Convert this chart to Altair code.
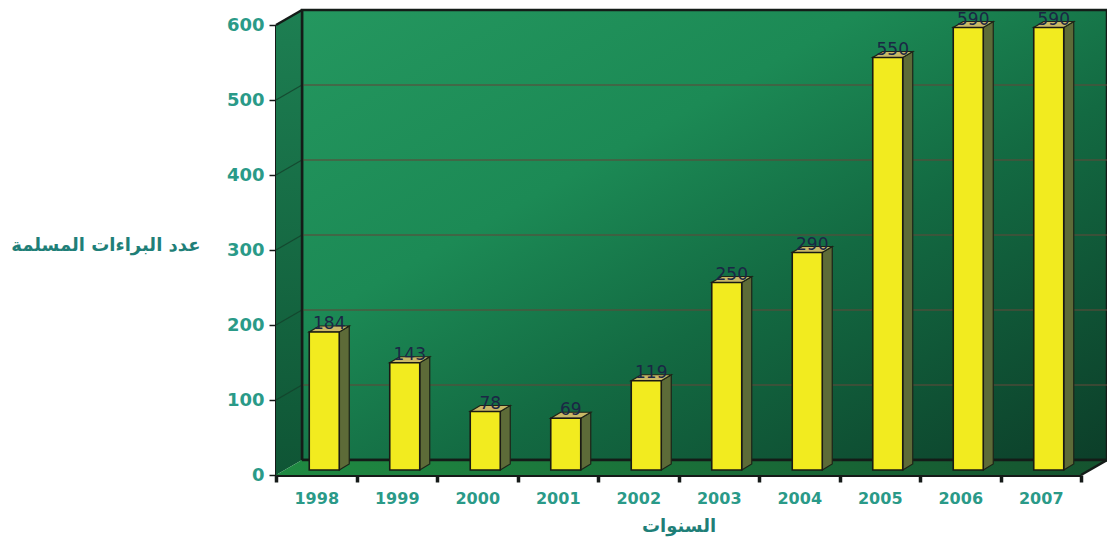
import altair as alt
import pandas as pd

# ---- data ----
years = ["1998", "1999", "2000", "2001", "2002", "2003", "2004", "2005", "2006", "2007"]
values = [184, 143, 78, 69, 119, 250, 290, 550, 590, 590]
y_ticks = [0, 100, 200, 300, 400, 500, 600]
x_title = "السنوات"
y_title = "عدد البراءات المسلمة"

# ---- geometry (plot 805 x 450 px, x domain 0..10 bands, y domain 0..600) ----
W, H = 805, 450
UX = 10 / W          # data units per px in x
UY = 600 / H         # data units per px in y
DX, DY = 26, 15      # wall depth in px
BAND = W / 10

xs = alt.Scale(domain=[0, 10], nice=False, zero=False)
ys = alt.Scale(domain=[0, 600], nice=False, zero=False)

label_expr = "[" + ",".join("'%s'" % y for y in years) + "][datum.value] || ''"

x_axis = alt.Axis(values=list(range(11)), labelExpr=label_expr, labelOffset=BAND / 2,
                  labelFlush=False, labelOverlap=False, labelBound=False,
                  labelFont="DejaVu Sans", labelFontWeight="bold", labelFontSize=16,
                  labelColor="#2a9a88", labelPadding=8,
                  tickSize=7, tickWidth=3.5, tickColor="#151a18",
                  domainColor="#151a18", domainWidth=3, grid=False,
                  title=x_title, titleX=W / 2, titleY=51, titleAlign="center",
                  titleBaseline="middle", titleFont="DejaVu Sans", titleFontWeight="bold",
                  titleFontSize=18, titleColor="#1f7f78")
y_axis = alt.Axis(values=y_ticks, labelFont="DejaVu Sans", labelFontWeight="bold",
                  labelFontSize=18, labelColor="#2a9a88", labelPadding=5,
                  tickSize=7, tickWidth=1.5, tickColor="#151a18",
                  domainColor="#151a18", domainWidth=3, grid=False,
                  title=y_title, titleAngle=0, titleX=-76, titleY=220,
                  titleAlign="right", titleBaseline="middle", titleFont="DejaVu Sans",
                  titleFontWeight="bold", titleFontSize=18, titleColor="#1f7f78")


def X(f="x"):
    return alt.X(f + ":Q", scale=xs, axis=x_axis)


def Y(f="y"):
    return alt.Y(f + ":Q", scale=ys, axis=y_axis)


dxu, dyu = DX * UX, DY * UY

# back wall
back_df = pd.DataFrame({"x": [dxu], "x2": [10 + dxu], "y": [dyu], "y2": [600 + dyu]})
back = alt.Chart(back_df).mark_rect(
    fill={"gradient": "linear", "x1": 0, "y1": 0, "x2": 1, "y2": 1,
          "stops": [{"offset": 0, "color": "#24975f"},
                    {"offset": 0.35, "color": "#1c8a55"},
                    {"offset": 0.6, "color": "#136a42"},
                    {"offset": 1, "color": "#0c3e29"}]},
    stroke="#141c18", strokeWidth=2.5
).encode(x=X(), x2="x2:Q", y=Y(), y2="y2:Q")

# gridlines on back wall
grid_df = pd.DataFrame({"x": [dxu] * 5, "x2": [10 + dxu] * 5,
                        "y": [v + dyu for v in y_ticks[1:-1]]})
grid = alt.Chart(grid_df).mark_rule(color="#5e4a3a", strokeWidth=1.5, opacity=0.75).encode(
    x=X(), x2="x2:Q", y=Y())

# left wall (vertical area)
left_df = pd.DataFrame({"x": [0, dxu], "y": [0, dyu], "y2": [600, 600 + dyu]})
left = alt.Chart(left_df).mark_area(
    orient="vertical",
    fill={"gradient": "linear", "x1": 0, "y1": 0, "x2": 0, "y2": 1,
          "stops": [{"offset": 0, "color": "#1d7f52"}, {"offset": 1, "color": "#0f5535"}]}
).encode(x=X(), y=Y(), y2="y2:Q")

lgrid_df = pd.DataFrame({"x": [0] * 5, "x2": [dxu] * 5,
                         "y": y_ticks[1:-1], "y2": [v + dyu for v in y_ticks[1:-1]]})
lgrid = alt.Chart(lgrid_df).mark_rule(color="#14402a", strokeWidth=1.2, opacity=0.8).encode(
    x=X(), x2="x2:Q", y=Y(), y2="y2:Q")

# floor (horizontal area)
floor_df = pd.DataFrame({"y": [0, dyu], "x": [0, dxu], "x2": [10, 10 + dxu]})
floor = alt.Chart(floor_df).mark_area(
    orient="horizontal",
    fill={"gradient": "linear", "x1": 0, "y1": 0, "x2": 1, "y2": 0,
          "stops": [{"offset": 0, "color": "#1f8a42"}, {"offset": 1, "color": "#15532f"}]}
).encode(y=Y(), x=X(), x2="x2:Q")

# dark edge lines
edge_df = pd.DataFrame({
    "x":  [0, dxu, 10, dxu],
    "x2": [dxu, dxu, 10 + dxu, 10 + dxu],
    "y":  [600, dyu, 0, dyu],
    "y2": [600 + dyu, 600 + dyu, dyu, dyu],
})
edges = alt.Chart(edge_df).mark_rule(color="#141c18", strokeWidth=2.5).encode(
    x=X(), x2="x2:Q", y=Y(), y2="y2:Q")

# ---- bars ----
FO_X, FO_Y = 8, 5        # bar front face offset (px) inside depth
BW = 30                  # bar width px
SD_X, SD_Y = 10, 6       # bar depth px

rows_front, rows_side, rows_top, rows_text = [], [], [], []
for i, (yr, v) in enumerate(zip(years, values)):
    c = i * BAND + BAND / 2 + FO_X
    xl, xr = (c - BW / 2) * UX, (c + BW / 2) * UX
    y0 = FO_Y * UY
    yt = v + FO_Y * UY
    rows_front.append({"year": yr, "x": xl, "x2": xr, "y": y0, "y2": yt})
    rows_side.append({"year": yr, "x": xr, "y": y0, "y2": yt})
    rows_side.append({"year": yr, "x": xr + SD_X * UX, "y": y0 + SD_Y * UY, "y2": yt + SD_Y * UY})
    rows_top.append({"year": yr, "y": yt, "x": xl, "x2": xr})
    rows_top.append({"year": yr, "y": yt + SD_Y * UY, "x": xl + SD_X * UX, "x2": xr + SD_X * UX})
    rows_text.append({"year": yr, "x": (c + SD_X / 2) * UX, "y": yt, "label": str(v)})

side = alt.Chart(pd.DataFrame(rows_side)).mark_area(
    orient="vertical", color="#5d6b38", stroke="#1d2418", strokeWidth=1.2
).encode(x=X(), y=Y(), y2="y2:Q", detail="year:N")

top = alt.Chart(pd.DataFrame(rows_top)).mark_area(
    orient="horizontal", color="#c9b866", stroke="#1d2418", strokeWidth=1.2
).encode(y=Y(), x=X(), x2="x2:Q", detail="year:N")

front = alt.Chart(pd.DataFrame(rows_front)).mark_rect(
    color="#f2eb1f", stroke="#1a1a14", strokeWidth=1.6
).encode(x=X(), x2="x2:Q", y=Y(), y2="y2:Q")

text = alt.Chart(pd.DataFrame(rows_text)).mark_text(
    font="DejaVu Sans", fontSize=17, color="#1b2745", baseline="alphabetic", dy=-3
).encode(x=X(), y=Y(), text="label:N")

chart = alt.layer(back, grid, left, lgrid, floor, edges, side, top, front, text).properties(
    width=W, height=H,
    autosize=alt.AutoSizeParams(type="none"),
    padding={"left": 276, "top": 25, "right": 26, "bottom": 65},
    background="white",
).configure_view(stroke=None)

chart.save("out.html", embed_options={"renderer": "svg", "actions": False})
